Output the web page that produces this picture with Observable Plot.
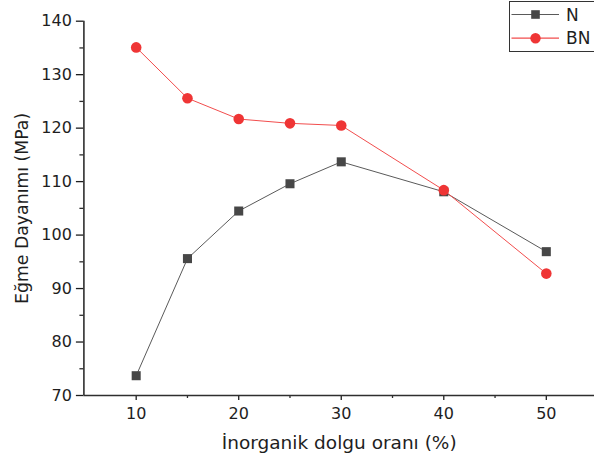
<!DOCTYPE html>
<html><head><meta charset="utf-8">
<script src="https://cdn.jsdelivr.net/npm/d3@7"></script>
<script src="https://cdn.jsdelivr.net/npm/@observablehq/plot@0.6"></script>
<style>
html,body{margin:0;padding:0;background:#fff;overflow:hidden}
#wrap{position:relative;width:594px;height:462px;overflow:hidden}
#legend{position:absolute;left:509px;top:1px;width:100px;height:51px;border:1.5px solid #333;background:#fff;box-sizing:border-box}
</style></head><body><div id="wrap"></div>
<script>
// data
const fillRatio = [10, 15, 20, 25, 30, 40, 50];
const seriesNames = ["N", "BN"];
const valuesN  = [73.7, 95.6, 104.5, 109.6, 113.7, 108.1, 96.9];
const valuesBN = [135.1, 125.6, 121.7, 120.9, 120.5, 108.4, 92.8];
const xTicks = [10, 20, 30, 40, 50];
const xMinor = [15, 25, 35, 45];
const yTicks = [70, 80, 90, 100, 110, 120, 130, 140];
const yMinor = [75, 85, 95, 105, 115, 125, 135];
const xLabel = "İnorganik dolgu oranı (%)";
const yLabel = "Eğme Dayanımı (MPa)";

const lineColors = {N: "#5a5a5a", BN: "#f24d4d"};
const markColors = {N: "#474747", BN: "#ef3535"};

const dataN = fillRatio.map((x, i) => ({x, y: valuesN[i]}));
const dataBN = fillRatio.map((x, i) => ({x, y: valuesBN[i]}));

const axisColor = "#2e2e2e";
const chart = Plot.plot({
  width: 594, height: 462,
  marginLeft: 83.4, marginRight: 0, marginTop: 20.7, marginBottom: 67,
  style: {fontFamily: "'DejaVu Sans', sans-serif", fontSize: "16px", color: "#1e1e1e", background: "#fff"},
  x: {domain: [4.9, 54.7]},
  y: {domain: [70, 140]},
  marks: [
    Plot.axisX({ticks: xTicks, tickSize: 5, tickPadding: 7.5, label: null, fontSize: 16, color: "#1e1e1e", strokeWidth: 1.3}),
    Plot.axisX({ticks: xMinor, tickSize: 3, tickFormat: () => "", label: null, strokeWidth: 1.3, color: axisColor}),
    Plot.axisY({ticks: yTicks, tickSize: 7.5, tickPadding: 4.5, label: null, fontSize: 16, color: "#1e1e1e", strokeWidth: 1.3}),
    Plot.axisY({ticks: yMinor, tickSize: 4, tickFormat: () => "", label: null, strokeWidth: 1.3, color: axisColor}),
    Plot.ruleY([70], {stroke: axisColor, strokeWidth: 1.6}),
    Plot.ruleX([4.9], {stroke: axisColor, strokeWidth: 1.6}),
    Plot.text([xLabel], {frameAnchor: "bottom", textAnchor: "middle", lineAnchor: "top", dy: 40, fontSize: 18.5, fill: "#1e1e1e"}),
    Plot.text([yLabel], {frameAnchor: "left", textAnchor: "middle", lineAnchor: "middle", rotate: -90, dx: -61.8, fontSize: 17.3, fill: "#1e1e1e"}),
    Plot.line(dataN, {x: "x", y: "y", stroke: lineColors.N, strokeWidth: 1}),
    Plot.dot(dataN, {x: "x", y: "y", symbol: "square", r: 5.1, fill: markColors.N, stroke: "none"}),
    Plot.line(dataBN, {x: "x", y: "y", stroke: lineColors.BN, strokeWidth: 1}),
    Plot.dot(dataBN, {x: "x", y: "y", symbol: "circle", r: 5.3, fill: markColors.BN, stroke: "none"})
  ]
});
const wrap = document.getElementById("wrap");
wrap.appendChild(chart);

// legend
const legend = document.createElement("div");
legend.id = "legend";
wrap.appendChild(legend);
const svg = d3.select(legend).append("svg").attr("width", 100).attr("height", 48)
  .style("font-family", "'DejaVu Sans', sans-serif");
seriesNames.forEach((name, i) => {
  const cy = 12.5 + i * 23.7;
  const g = svg.append("g");
  g.append("line").attr("x1", 1.5).attr("x2", 49).attr("y1", cy).attr("y2", cy)
    .attr("stroke", lineColors[name]).attr("stroke-width", 1.2);
  if (name === "N") {
    g.append("rect").attr("x", 25.5 - 4.3).attr("y", cy - 4.3).attr("width", 8.6).attr("height", 8.6).attr("fill", markColors[name]);
  } else {
    g.append("circle").attr("cx", 25.5).attr("cy", cy).attr("r", 5.2).attr("fill", markColors[name]);
  }
  g.append("text").attr("x", 56).attr("y", cy).attr("dy", "0.36em").attr("font-size", 17)
    .attr("fill", "#1e1e1e").text(name);
});
</script>
</body></html>
